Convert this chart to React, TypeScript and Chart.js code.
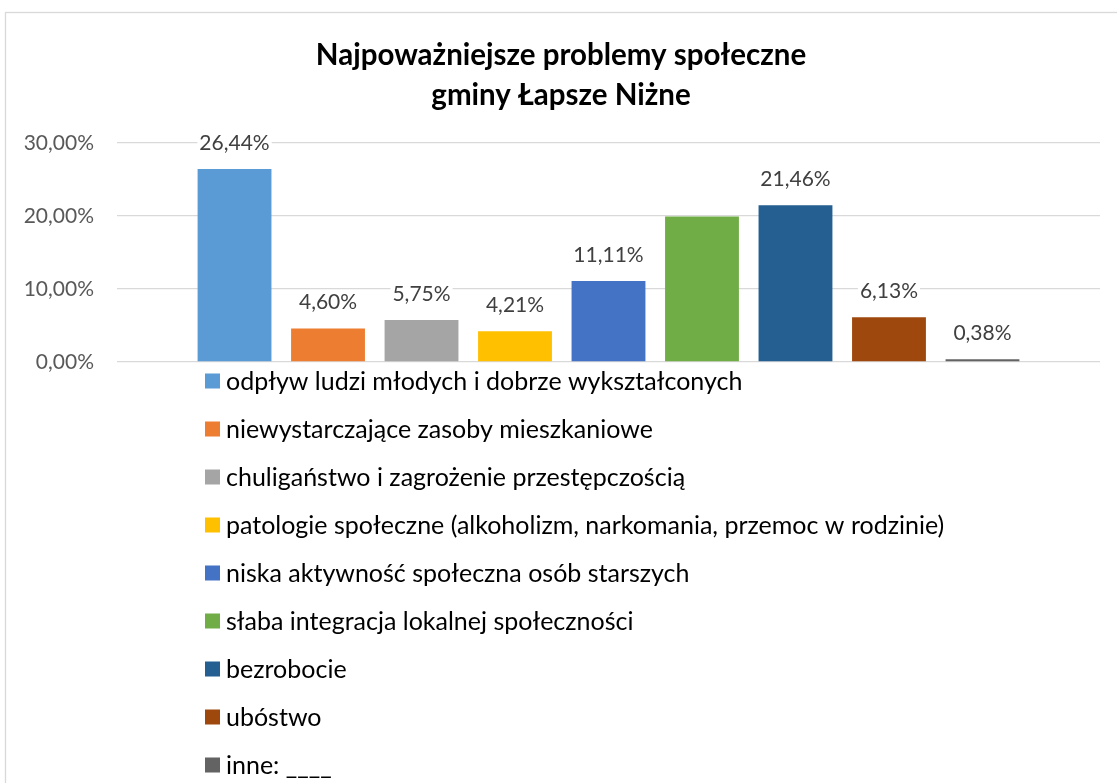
import React, { useEffect, useRef } from "react";
import { Chart, registerables } from "chart.js";

Chart.register(...registerables);

const titleLines = ["Najpoważniejsze problemy społeczne", "gminy Łapsze Niżne"];
const categoryLabels = [""];
const seriesNames = [
  "odpływ ludzi młodych i dobrze wykształconych",
  "niewystarczające zasoby mieszkaniowe",
  "chuligaństwo i zagrożenie przestępczością",
  "patologie społeczne (alkoholizm, narkomania, przemoc w rodzinie)",
  "niska aktywność społeczna osób starszych",
  "słaba integracja lokalnej społeczności",
  "bezrobocie",
  "ubóstwo",
  "inne: ____",
];
const seriesValues = [26.44, 4.6, 5.75, 4.21, 11.11, 19.92, 21.46, 6.13, 0.38];
const seriesColors = [
  "#5B9BD5",
  "#ED7D31",
  "#A5A5A5",
  "#FFC000",
  "#4472C4",
  "#70AD47",
  "#255E91",
  "#9E480E",
  "#636363",
];
const showValueLabel = [true, true, true, true, true, false, true, true, true];
const yMin = 0;
const yMax = 30;
const yStep = 10;

const FONT = "Lato, 'Open Sans', sans-serif";

const fmtPct = (v: number) => v.toFixed(2).replace(".", ",") + "%";

const framePlugin = {
  id: "frame",
  beforeDraw(chart: any) {
    const ctx = chart.ctx;
    ctx.save();
    ctx.fillStyle = "#ffffff";
    ctx.fillRect(0, 0, chart.width, chart.height);
    ctx.strokeStyle = "#d9d9d9";
    ctx.lineWidth = 1.3;
    ctx.strokeRect(5.5, 12.5, chart.width + 20, chart.height + 20);
    ctx.restore();
  },
};

const valueLabelPlugin = {
  id: "valueLabels",
  afterDatasetsDraw(chart: any) {
    const ctx = chart.ctx;
    ctx.save();
    ctx.font = `21px ${FONT}`;
    ctx.textAlign = "center";
    ctx.textBaseline = "middle";
    chart.data.datasets.forEach((ds: any, i: number) => {
      if (!showValueLabel[i]) return;
      const meta = chart.getDatasetMeta(i);
      const el = meta.data[0];
      if (!el) return;
      const text = fmtPct(ds.data[0]);
      const w = ctx.measureText(text).width;
      const cy = el.y - 26;
      ctx.fillStyle = "#ffffff";
      ctx.fillRect(el.x - w / 2 - 2, cy - 10, w + 4, 20);
      ctx.fillStyle = "#404040";
      ctx.fillText(text, el.x, cy);
    });
    ctx.restore();
  },
};

const legendPlugin = {
  id: "rowLegend",
  afterDraw(chart: any) {
    const ctx = chart.ctx;
    const area = chart.chartArea;
    const x0 = area.left + 88;
    const y0 = area.bottom + 19;
    const rowH = 48;
    const box = 15;
    ctx.save();
    ctx.font = `25px ${FONT}`;
    ctx.textAlign = "left";
    ctx.textBaseline = "middle";
    seriesNames.forEach((name, i) => {
      const cy = y0 + i * rowH;
      ctx.fillStyle = seriesColors[i];
      ctx.fillRect(x0, cy - box / 2, box, box);
      ctx.fillStyle = "#000000";
      ctx.fillText(name, x0 + 21, cy + 1);
    });
    ctx.restore();
  },
};

export default function App() {
  const canvasRef = useRef<HTMLCanvasElement | null>(null);

  useEffect(() => {
    document.body.style.margin = "0";
    document.body.style.overflow = "hidden";
    const canvas = canvasRef.current;
    if (!canvas) return;
    const chart = new Chart(canvas, {
      type: "bar",
      data: {
        labels: categoryLabels,
        datasets: seriesNames.map((name, i) => ({
          label: name,
          data: [seriesValues[i]],
          backgroundColor: seriesColors[i],
          borderWidth: 0,
          categoryPercentage: 0.856,
          barPercentage: 0.79,
        })),
      },
      options: {
        responsive: false,
        animation: false,
        events: [],
        layout: { padding: { left: 22, right: 17, top: 0, bottom: 421 } },
        plugins: {
          legend: { display: false },
          tooltip: { enabled: false },
          title: {
            display: true,
            text: titleLines,
            color: "#000000",
            font: { family: FONT, size: 29.5, weight: "bold", lineHeight: 40 / 29.5 },
            padding: { top: 35, bottom: 28 },
          },
        },
        scales: {
          x: { display: false },
          y: {
            min: yMin,
            max: yMax,
            border: { display: false },
            grid: { color: "#d9d9d9", lineWidth: 1.3, drawTicks: false },
            ticks: {
              stepSize: yStep,
              padding: 23,
              color: "#595959",
              font: { family: FONT, size: 21 },
              callback: (v: any) => fmtPct(Number(v)),
            },
            afterFit: (scale: any) => {
              scale.width = 95;
            },
          },
        },
      },
      plugins: [framePlugin, valueLabelPlugin, legendPlugin],
    });
    return () => chart.destroy();
  }, []);

  return (
    <div style={{ width: 1117, height: 783 }}>
      <canvas ref={canvasRef} width={1117} height={783} style={{ display: "block" }} />
    </div>
  );
}
